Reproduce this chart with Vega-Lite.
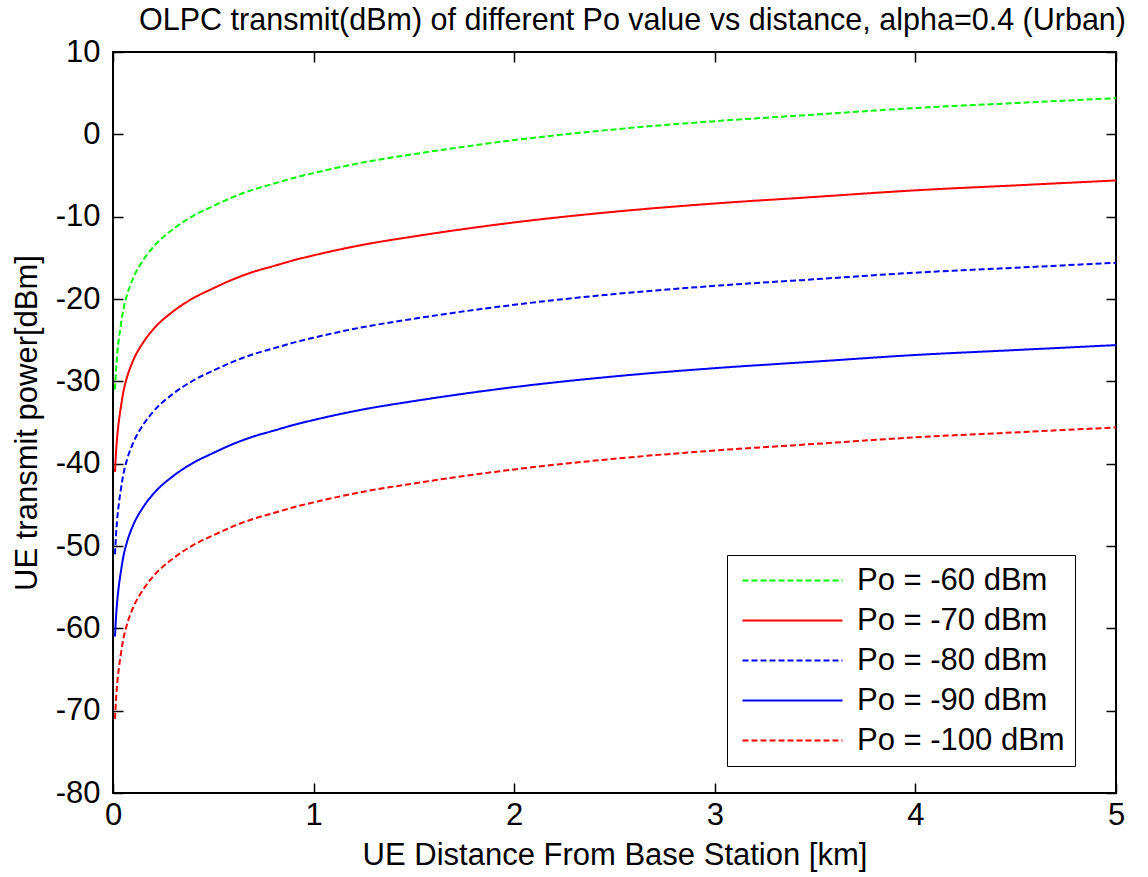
{
  "$schema": "https://vega.github.io/schema/vega-lite/v6.json",
  "width": 1003,
  "height": 741,
  "autosize": {"type": "none"},
  "padding": {"left": 113, "top": 52, "right": 32, "bottom": 84},
  "background": "white",
  "config": {
    "font": "Liberation Sans",
    "view": {"stroke": "black", "strokeWidth": 2},
    "axis": {"grid": false, "domain": false, "tickColor": "black", "tickWidth": 1.5, "labelColor": "black", "titleColor": "black", "labelFont": "Liberation Sans", "titleFont": "Liberation Sans", "labelFontSize": 31, "titleFontSize": 31, "titleFontWeight": "normal", "labelFlush": false, "labelOverlap": false}
  },
  "title": {"text": "OLPC transmit(dBm) of different Po value vs distance, alpha=0.4 (Urban)", "font": "Liberation Sans", "fontSize": 30.5, "fontWeight": "normal", "color": "black", "offset": 0, "anchor": "middle", "dx": 18},
  "data": {"values": [
    {"d":0.01,"p":-31.0,"s":"Po = -60 dBm"},{"d":0.015,"p":-28.7,"s":"Po = -60 dBm"},{"d":0.02,"p":-27.0,"s":"Po = -60 dBm"},{"d":0.03,"p":-24.7,"s":"Po = -60 dBm"},{"d":0.04,"p":-23.0,"s":"Po = -60 dBm"},{"d":0.05,"p":-21.5,"s":"Po = -60 dBm"},{"d":0.07,"p":-19.5,"s":"Po = -60 dBm"},{"d":0.1,"p":-17.5,"s":"Po = -60 dBm"},{"d":0.15,"p":-15.3,"s":"Po = -60 dBm"},{"d":0.2,"p":-13.7,"s":"Po = -60 dBm"},{"d":0.3,"p":-11.5,"s":"Po = -60 dBm"},{"d":0.4,"p":-9.9,"s":"Po = -60 dBm"},{"d":0.5,"p":-8.7,"s":"Po = -60 dBm"},{"d":0.6,"p":-7.6,"s":"Po = -60 dBm"},{"d":0.7,"p":-6.7,"s":"Po = -60 dBm"},{"d":0.8,"p":-6.0,"s":"Po = -60 dBm"},{"d":0.9,"p":-5.3,"s":"Po = -60 dBm"},{"d":1.0,"p":-4.7,"s":"Po = -60 dBm"},{"d":1.25,"p":-3.4,"s":"Po = -60 dBm"},{"d":1.5,"p":-2.4,"s":"Po = -60 dBm"},{"d":1.75,"p":-1.5,"s":"Po = -60 dBm"},{"d":2.0,"p":-0.7,"s":"Po = -60 dBm"},{"d":2.5,"p":0.6,"s":"Po = -60 dBm"},{"d":3.0,"p":1.6,"s":"Po = -60 dBm"},{"d":3.5,"p":2.4,"s":"Po = -60 dBm"},{"d":4.0,"p":3.2,"s":"Po = -60 dBm"},{"d":4.5,"p":3.8,"s":"Po = -60 dBm"},{"d":5.0,"p":4.4,"s":"Po = -60 dBm"},
    {"d":0.01,"p":-41.0,"s":"Po = -70 dBm"},{"d":0.015,"p":-38.7,"s":"Po = -70 dBm"},{"d":0.02,"p":-37.0,"s":"Po = -70 dBm"},{"d":0.03,"p":-34.7,"s":"Po = -70 dBm"},{"d":0.04,"p":-33.0,"s":"Po = -70 dBm"},{"d":0.05,"p":-31.5,"s":"Po = -70 dBm"},{"d":0.07,"p":-29.5,"s":"Po = -70 dBm"},{"d":0.1,"p":-27.5,"s":"Po = -70 dBm"},{"d":0.15,"p":-25.3,"s":"Po = -70 dBm"},{"d":0.2,"p":-23.7,"s":"Po = -70 dBm"},{"d":0.3,"p":-21.5,"s":"Po = -70 dBm"},{"d":0.4,"p":-19.9,"s":"Po = -70 dBm"},{"d":0.5,"p":-18.7,"s":"Po = -70 dBm"},{"d":0.6,"p":-17.6,"s":"Po = -70 dBm"},{"d":0.7,"p":-16.7,"s":"Po = -70 dBm"},{"d":0.8,"p":-16.0,"s":"Po = -70 dBm"},{"d":0.9,"p":-15.3,"s":"Po = -70 dBm"},{"d":1.0,"p":-14.7,"s":"Po = -70 dBm"},{"d":1.25,"p":-13.4,"s":"Po = -70 dBm"},{"d":1.5,"p":-12.4,"s":"Po = -70 dBm"},{"d":1.75,"p":-11.5,"s":"Po = -70 dBm"},{"d":2.0,"p":-10.7,"s":"Po = -70 dBm"},{"d":2.5,"p":-9.4,"s":"Po = -70 dBm"},{"d":3.0,"p":-8.4,"s":"Po = -70 dBm"},{"d":3.5,"p":-7.6,"s":"Po = -70 dBm"},{"d":4.0,"p":-6.8,"s":"Po = -70 dBm"},{"d":4.5,"p":-6.2,"s":"Po = -70 dBm"},{"d":5.0,"p":-5.6,"s":"Po = -70 dBm"},
    {"d":0.01,"p":-51.0,"s":"Po = -80 dBm"},{"d":0.015,"p":-48.7,"s":"Po = -80 dBm"},{"d":0.02,"p":-47.0,"s":"Po = -80 dBm"},{"d":0.03,"p":-44.7,"s":"Po = -80 dBm"},{"d":0.04,"p":-43.0,"s":"Po = -80 dBm"},{"d":0.05,"p":-41.5,"s":"Po = -80 dBm"},{"d":0.07,"p":-39.5,"s":"Po = -80 dBm"},{"d":0.1,"p":-37.5,"s":"Po = -80 dBm"},{"d":0.15,"p":-35.3,"s":"Po = -80 dBm"},{"d":0.2,"p":-33.7,"s":"Po = -80 dBm"},{"d":0.3,"p":-31.5,"s":"Po = -80 dBm"},{"d":0.4,"p":-29.9,"s":"Po = -80 dBm"},{"d":0.5,"p":-28.7,"s":"Po = -80 dBm"},{"d":0.6,"p":-27.6,"s":"Po = -80 dBm"},{"d":0.7,"p":-26.7,"s":"Po = -80 dBm"},{"d":0.8,"p":-26.0,"s":"Po = -80 dBm"},{"d":0.9,"p":-25.3,"s":"Po = -80 dBm"},{"d":1.0,"p":-24.7,"s":"Po = -80 dBm"},{"d":1.25,"p":-23.4,"s":"Po = -80 dBm"},{"d":1.5,"p":-22.4,"s":"Po = -80 dBm"},{"d":1.75,"p":-21.5,"s":"Po = -80 dBm"},{"d":2.0,"p":-20.7,"s":"Po = -80 dBm"},{"d":2.5,"p":-19.4,"s":"Po = -80 dBm"},{"d":3.0,"p":-18.4,"s":"Po = -80 dBm"},{"d":3.5,"p":-17.6,"s":"Po = -80 dBm"},{"d":4.0,"p":-16.8,"s":"Po = -80 dBm"},{"d":4.5,"p":-16.2,"s":"Po = -80 dBm"},{"d":5.0,"p":-15.6,"s":"Po = -80 dBm"},
    {"d":0.01,"p":-61.0,"s":"Po = -90 dBm"},{"d":0.015,"p":-58.7,"s":"Po = -90 dBm"},{"d":0.02,"p":-57.0,"s":"Po = -90 dBm"},{"d":0.03,"p":-54.7,"s":"Po = -90 dBm"},{"d":0.04,"p":-53.0,"s":"Po = -90 dBm"},{"d":0.05,"p":-51.5,"s":"Po = -90 dBm"},{"d":0.07,"p":-49.5,"s":"Po = -90 dBm"},{"d":0.1,"p":-47.5,"s":"Po = -90 dBm"},{"d":0.15,"p":-45.3,"s":"Po = -90 dBm"},{"d":0.2,"p":-43.7,"s":"Po = -90 dBm"},{"d":0.3,"p":-41.5,"s":"Po = -90 dBm"},{"d":0.4,"p":-39.9,"s":"Po = -90 dBm"},{"d":0.5,"p":-38.7,"s":"Po = -90 dBm"},{"d":0.6,"p":-37.6,"s":"Po = -90 dBm"},{"d":0.7,"p":-36.7,"s":"Po = -90 dBm"},{"d":0.8,"p":-36.0,"s":"Po = -90 dBm"},{"d":0.9,"p":-35.3,"s":"Po = -90 dBm"},{"d":1.0,"p":-34.7,"s":"Po = -90 dBm"},{"d":1.25,"p":-33.4,"s":"Po = -90 dBm"},{"d":1.5,"p":-32.4,"s":"Po = -90 dBm"},{"d":1.75,"p":-31.5,"s":"Po = -90 dBm"},{"d":2.0,"p":-30.7,"s":"Po = -90 dBm"},{"d":2.5,"p":-29.4,"s":"Po = -90 dBm"},{"d":3.0,"p":-28.4,"s":"Po = -90 dBm"},{"d":3.5,"p":-27.6,"s":"Po = -90 dBm"},{"d":4.0,"p":-26.8,"s":"Po = -90 dBm"},{"d":4.5,"p":-26.2,"s":"Po = -90 dBm"},{"d":5.0,"p":-25.6,"s":"Po = -90 dBm"},
    {"d":0.01,"p":-71.0,"s":"Po = -100 dBm"},{"d":0.015,"p":-68.7,"s":"Po = -100 dBm"},{"d":0.02,"p":-67.0,"s":"Po = -100 dBm"},{"d":0.03,"p":-64.7,"s":"Po = -100 dBm"},{"d":0.04,"p":-63.0,"s":"Po = -100 dBm"},{"d":0.05,"p":-61.5,"s":"Po = -100 dBm"},{"d":0.07,"p":-59.5,"s":"Po = -100 dBm"},{"d":0.1,"p":-57.5,"s":"Po = -100 dBm"},{"d":0.15,"p":-55.3,"s":"Po = -100 dBm"},{"d":0.2,"p":-53.7,"s":"Po = -100 dBm"},{"d":0.3,"p":-51.5,"s":"Po = -100 dBm"},{"d":0.4,"p":-49.9,"s":"Po = -100 dBm"},{"d":0.5,"p":-48.7,"s":"Po = -100 dBm"},{"d":0.6,"p":-47.6,"s":"Po = -100 dBm"},{"d":0.7,"p":-46.7,"s":"Po = -100 dBm"},{"d":0.8,"p":-46.0,"s":"Po = -100 dBm"},{"d":0.9,"p":-45.3,"s":"Po = -100 dBm"},{"d":1.0,"p":-44.7,"s":"Po = -100 dBm"},{"d":1.25,"p":-43.4,"s":"Po = -100 dBm"},{"d":1.5,"p":-42.4,"s":"Po = -100 dBm"},{"d":1.75,"p":-41.5,"s":"Po = -100 dBm"},{"d":2.0,"p":-40.7,"s":"Po = -100 dBm"},{"d":2.5,"p":-39.4,"s":"Po = -100 dBm"},{"d":3.0,"p":-38.4,"s":"Po = -100 dBm"},{"d":3.5,"p":-37.6,"s":"Po = -100 dBm"},{"d":4.0,"p":-36.8,"s":"Po = -100 dBm"},{"d":4.5,"p":-36.2,"s":"Po = -100 dBm"},{"d":5.0,"p":-35.6,"s":"Po = -100 dBm"}
  ]},
  "layer": [
    {
      "mark": {"type": "line", "strokeWidth": 2, "interpolate": "monotone"},
      "encoding": {
        "x": {"field": "d", "type": "quantitative", "scale": {"domain": [0, 5], "nice": false}, "axis": {"orient": "bottom", "values": [0,1,2,3,4,5], "tickSize": -10, "labelPadding": 17, "title": "UE Distance From Base Station [km]", "titlePadding": 10}},
        "y": {"field": "p", "type": "quantitative", "scale": {"domain": [-80, 10], "nice": false}, "axis": {"orient": "left", "values": [-80,-70,-60,-50,-40,-30,-20,-10,0,10], "tickSize": -10, "labelPadding": 23, "labelExpr": "'' + datum.value", "title": "UE transmit power[dBm]", "titlePadding": 12}},
        "color": {"field": "s", "type": "nominal", "sort": ["Po = -60 dBm","Po = -70 dBm","Po = -80 dBm","Po = -90 dBm","Po = -100 dBm"],
          "scale": {"domain": ["Po = -60 dBm","Po = -70 dBm","Po = -80 dBm","Po = -90 dBm","Po = -100 dBm"], "range": ["#00ff00","#ff0000","#0000ff","#0000ff","#ff0000"]},
          "legend": {"orient": "none", "legendX": 614, "legendY": 503, "title": null, "strokeColor": "black", "fillColor": "white", "padding": 10, "symbolType": "M-1,0H9", "symbolSize": 400, "symbolStrokeWidth": 2, "labelFontSize": 31, "labelFont": "Liberation Sans", "labelColor": "black", "labelOffset": 89, "labelLimit": 400, "rowPadding": 8}},
        "strokeDash": {"field": "s", "type": "nominal", "sort": ["Po = -60 dBm","Po = -70 dBm","Po = -80 dBm","Po = -90 dBm","Po = -100 dBm"],
          "scale": {"domain": ["Po = -60 dBm","Po = -70 dBm","Po = -80 dBm","Po = -90 dBm","Po = -100 dBm"], "range": [[6,3],[1,0],[6,3],[1,0],[6,3]]},
          "legend": {"orient": "none", "legendX": 614, "legendY": 503, "title": null, "strokeColor": "black", "fillColor": "white", "padding": 10, "symbolType": "M-1,0H9", "symbolSize": 400, "symbolStrokeWidth": 2, "labelFontSize": 31, "labelFont": "Liberation Sans", "labelColor": "black", "labelOffset": 89, "labelLimit": 400, "rowPadding": 8}}
      }
    },
    {
      "mark": {"type": "line", "opacity": 0},
      "encoding": {
        "x": {"field": "d", "type": "quantitative", "axis": {"orient": "top", "values": [0,1,2,3,4,5], "tickSize": -10, "labels": false, "title": null}},
        "y": {"field": "p", "type": "quantitative", "axis": {"orient": "right", "values": [-80,-70,-60,-50,-40,-30,-20,-10,0,10], "tickSize": -10, "labels": false, "title": null}},
        "detail": {"field": "s", "type": "nominal"}
      }
    }
  ],
  "resolve": {"axis": {"x": "independent", "y": "independent"}}
}
